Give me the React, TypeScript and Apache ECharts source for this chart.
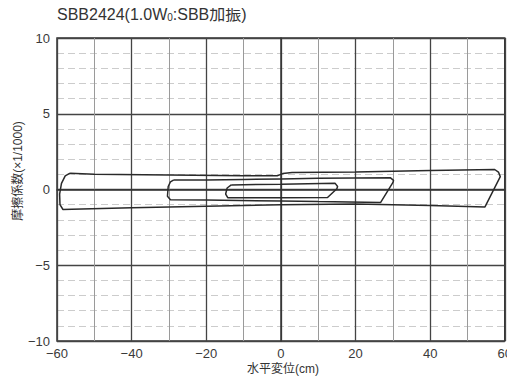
import React, { useEffect, useRef } from "react";
import * as echarts from "echarts";

// Large loop (±60 cm)
const loopLarge: [number, number][] = [
  [-56.5, 1.08], [-50, 1.0], [-30, 0.95], [-10, 0.9], [-1, 0.9], [0.5, 1.05],
  [3, 1.12], [20, 1.15], [40, 1.25], [57.3, 1.32], [58.3, 1.15], [58.8, 0.85],
  [54.7, -1.15], [40, -1.05], [20, -0.95], [0, -1.0], [-20, -1.1], [-40, -1.2],
  [-56, -1.3], [-58.4, -1.32], [-59.2, -1.0], [-59.3, -0.3], [-58.8, 0.4],
  [-57.8, 0.9], [-56.5, 1.08],
];
// Medium loop (±30 cm)
const loopMedium: [number, number][] = [
  [-28.8, 0.62], [-20, 0.63], [-10, 0.66], [0, 0.7], [10, 0.74], [29.3, 0.78],
  [30.2, 0.6], [30.0, 0.45], [26.7, -0.86], [10, -0.8], [0, -0.76], [-20, -0.7],
  [-29.6, -0.68], [-30.4, -0.45], [-30.2, 0.2], [-29.6, 0.5], [-28.8, 0.62],
];
// Small loop (±15 cm)
const loopSmall: [number, number][] = [
  [-13.3, 0.3], [0, 0.35], [14.5, 0.42], [15.2, 0.2], [15.0, 0.05], [12.5, -0.53],
  [0, -0.55], [-14.2, -0.55], [-14.8, -0.3], [-14.4, 0.1], [-13.3, 0.3],
];

const xTicks = { min: -60, max: 60, interval: 20 };
const yTicks = { min: -10, max: 10, interval: 5 };

const titleParts = ["SBB2424(1.0W", "0", ":SBB加振)"];
const xName = "水平変位(cm)";
const yName = "摩擦係数(×1/1000)";

const fmt = (v: number) => (v < 0 ? "−" + Math.abs(v) : String(v));
const latin = "'Liberation Sans', Arial, sans-serif";
const cjk = "'Liberation Sans', 'Noto Sans CJK JP', sans-serif";

export default function App() {
  const ref = useRef<HTMLDivElement>(null);
  useEffect(() => {
    if (!ref.current) return;
    const chart = echarts.init(ref.current, undefined, { renderer: "svg" });
    const loopSeries = (data: [number, number][]) => ({
      type: "line",
      data,
      showSymbol: false,
      smooth: false,
      lineStyle: { color: "#2a2a2a", width: 1.5 },
      silent: true,
    });
    chart.setOption({
      animation: false,
      backgroundColor: "#ffffff",
      grid: {
        left: 57, right: 8, top: 38, bottom: 45,
        show: true, borderColor: "#333", borderWidth: 1.5,
      },
      xAxis: {
        type: "value",
        min: xTicks.min, max: xTicks.max, interval: xTicks.interval,
        axisLine: { show: true, lineStyle: { color: "#333", width: 1.5 } },
        axisTick: { show: false },
        axisLabel: { formatter: fmt, color: "#3a3a3a", fontSize: 13, fontFamily: latin, margin: 6 },
        splitLine: { show: true, lineStyle: { color: "#444", width: 1.3 } },
        minorTick: { show: false, splitNumber: 2 },
        minorSplitLine: { show: true, lineStyle: { color: "#9a9a9a", width: 1 } },
      },
      yAxis: {
        type: "value",
        min: yTicks.min, max: yTicks.max, interval: yTicks.interval,
        axisLine: { show: true, lineStyle: { color: "#333", width: 1.5 } },
        axisTick: { show: false },
        axisLabel: { formatter: fmt, color: "#3a3a3a", fontSize: 13, fontFamily: latin, margin: 7 },
        splitLine: { show: true, lineStyle: { color: "#444", width: 1.3 } },
        minorTick: { show: false, splitNumber: 5 },
        minorSplitLine: { show: true, lineStyle: { color: "#cccccc", width: 1, type: [7, 4] } },
      },
      graphic: [
        {
          type: "text", left: 57, top: 6,
          style: {
            text: `{a|${titleParts[0]}}{s|${titleParts[1]}}{a|${titleParts[2]}}`,
            rich: {
              a: { fontSize: 16, fontFamily: cjk, fill: "#333" },
              s: { fontSize: 10, fontFamily: latin, fill: "#333", padding: [7, 0, 0, 0] },
            },
          },
        },
        {
          type: "text", x: 283, y: 369,
          style: { text: xName, fontSize: 12, fontFamily: cjk, fill: "#333", align: "center", verticalAlign: "middle" },
        },
        {
          type: "text", x: 18, y: 171, rotation: Math.PI / 2,
          style: { text: yName, fontSize: 12, fontFamily: cjk, fill: "#333", align: "center", verticalAlign: "middle" },
        },
      ],
      series: [loopSeries(loopLarge), loopSeries(loopMedium), loopSeries(loopSmall)],
    });
    return () => chart.dispose();
  }, []);
  return <div ref={ref} style={{ width: 515, height: 386, margin: -8 }} />;
}
